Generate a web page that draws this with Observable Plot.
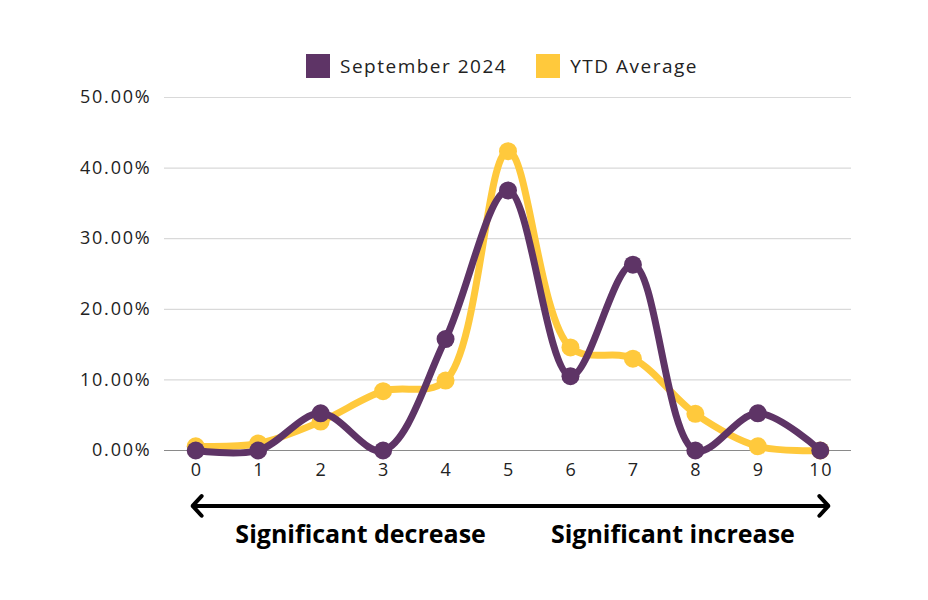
<!DOCTYPE html>
<html>
<head>
<meta charset="utf-8">
<script src="https://cdn.jsdelivr.net/npm/d3@7"></script>
<script src="https://cdn.jsdelivr.net/npm/@observablehq/plot@0.6"></script>
<style>
  body { margin: 0; background: #fff; }
  #wrap { position: relative; width: 928px; height: 600px; }
  #legend { position: absolute; top: 53px; left: 306px; display: flex; gap: 29px; font-family: "Open Sans", sans-serif; font-size: 19px; letter-spacing: 1.5px; color: #222; }
  .item { display: flex; align-items: center; gap: 10px; }
  .sw { width: 24px; height: 24px; display: inline-block; }
</style>
</head>
<body>
<div id="wrap">
  <div id="legend"></div>
  <div id="chart"></div>
</div>
<script>
const categories = [0, 1, 2, 3, 4, 5, 6, 7, 8, 9, 10];
const september = [0, 0, 5.26, 0, 15.79, 36.84, 10.53, 26.32, 0, 5.26, 0];
const ytd = [0.6, 1.0, 4.1, 8.4, 9.9, 42.4, 14.6, 13.0, 5.2, 0.6, 0.0];
const seriesNames = ["September 2024", "YTD Average"];
const seriesColors = ["#5e3466", "#ffc93c"];
const yTicks = [0, 10, 20, 30, 40, 50];
const bottomLabels = ["Significant decrease", "Significant increase"];

const rows = [];
categories.forEach((c, i) => {
  rows.push({x: c, y: ytd[i], s: seriesNames[1]});
});
categories.forEach((c, i) => {
  rows.push({x: c, y: september[i], s: seriesNames[0]});
});

const legend = document.getElementById("legend");
seriesNames.forEach((n, i) => {
  const it = document.createElement("div");
  it.className = "item";
  it.innerHTML = `<span class="sw" style="background:${seriesColors[i]}"></span><span>${n}</span>`;
  legend.appendChild(it);
});

const chart = Plot.plot({
  width: 928,
  height: 600,
  marginTop: 97,
  marginBottom: 150,
  marginLeft: 164,
  marginRight: 77,
  style: {fontFamily: "'Open Sans', sans-serif", fontSize: "18px", color: "#222", letterSpacing: "1.8px"},
  x: {domain: [-0.5, 10.5], axis: null},
  y: {domain: [0, 50], axis: null},
  color: {domain: seriesNames, range: seriesColors},
  marks: [
    Plot.ruleY(yTicks.filter(d => d > 0), {stroke: "#d9d9d9", strokeWidth: 1.2}),
    Plot.ruleY([0], {stroke: "#8a8a8a", strokeWidth: 1.2}),
    Plot.text(yTicks, {x: -0.5, y: d => d, text: d => d.toFixed(2) + "%", textAnchor: "end", dx: -13, fill: "#222", fontSize: 18}),
    Plot.text(categories, {x: d => d, y: 0, text: d => String(d), dy: 20, dx: 1, fill: "#222", fontSize: 18}),
    Plot.line(rows.filter(r => r.s === seriesNames[1]), {x: "x", y: "y", stroke: "s", strokeWidth: 7, curve: "catmull-rom"}),
    Plot.dot(rows.filter(r => r.s === seriesNames[1]), {x: "x", y: "y", fill: "s", r: 9}),
    Plot.line(rows.filter(r => r.s === seriesNames[0]), {x: "x", y: "y", stroke: "s", strokeWidth: 7, curve: "catmull-rom"}),
    Plot.dot(rows.filter(r => r.s === seriesNames[0]), {x: "x", y: "y", fill: "s", r: 9}),
    Plot.arrow([{x1: 5, x2: -0.05}, {x1: 5, x2: 10.13}], {x1: "x1", x2: "x2", y1: -7.85, y2: -7.85, stroke: "#000", strokeWidth: 4, headLength: 5, headAngle: 95, bend: 0}),
    Plot.text(bottomLabels, {x: (d, i) => [2.64, 7.64][i], y: -12.0, text: d => d, fontFamily: "'Open Sans', sans-serif", fontWeight: "bold", fontSize: 25, fill: "#000"})
  ]
});
d3.select(chart).selectAll("text").filter(function() { return bottomLabels.includes(this.textContent); }).style("letter-spacing", "0px");
document.getElementById("chart").appendChild(chart);
</script>
</body>
</html>
